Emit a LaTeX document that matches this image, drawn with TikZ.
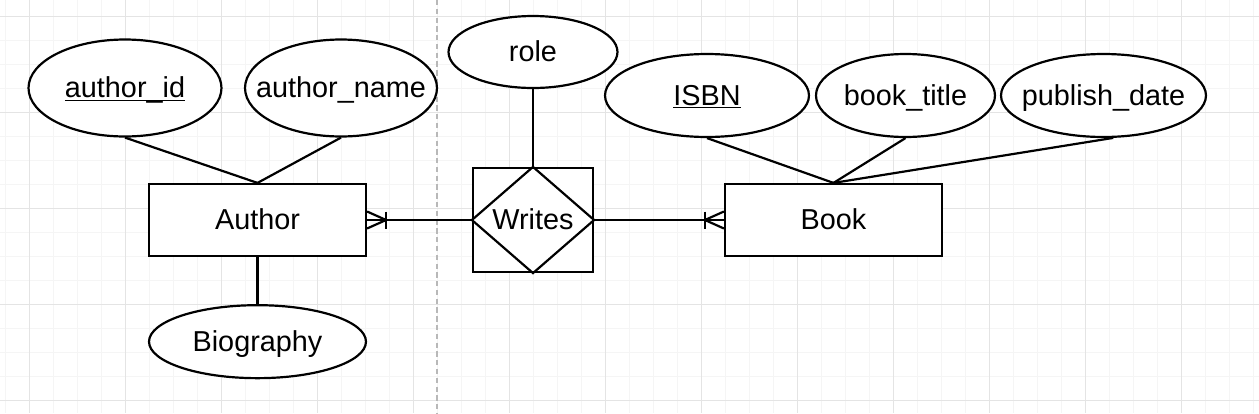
\documentclass[tikz,border=0pt]{standalone}
\usepackage{fontspec}
\setmainfont{Liberation Sans}
\usepackage{xcolor}
\usetikzlibrary{shapes,arrows,positioning}
\definecolor{gridmajor}{HTML}{E4E4E4}
\definecolor{gridminor}{HTML}{F5F5F5}
\definecolor{pagesplit}{HTML}{B8B8B8}
\newcommand{\attrlabel}[1]{\makebox[0pt]{#1}}
\newcommand{\keylabel}[1]{\makebox[0pt]{\underline{\smash{#1}}}}

\begin{document}
\begin{tikzpicture}[x=0.02cm, y=-0.02cm, line width=1.25pt, font=\fontsize{16.4}{19}\selectfont]
        \tikzstyle{entity} = [rectangle, draw, fill=white, minimum width=4.34cm, minimum height=1.44cm, inner sep=0pt, text height=14pt, text depth=3pt]
        \tikzstyle{attribute} = [ellipse, draw, fill=white, inner sep=0pt, text height=14pt, text depth=3pt]
        \tikzstyle{relation} = [rectangle, draw, fill=white, minimum width=2.4cm, minimum height=2.08cm, inner sep=0pt, text height=14pt, text depth=3pt]
        \tikzstyle{line} = [draw]
        \tikzstyle{minorline} = [draw=gridminor, line width=0.45pt]
        \tikzstyle{majorline} = [draw=gridmajor, line width=0.55pt]

    \useasboundingbox (0,0) rectangle (1259,413);
    \fill [white] (0,0) rectangle (1259,413);

    % background grid
    \foreach \gx in {5,29,...,1253} \draw [minorline] (\gx,0) -- (\gx,413);
    \foreach \gy in {16,40,...,400} \draw [minorline] (0,\gy) -- (1259,\gy);
    \foreach \gx in {29,125,...,1181} \draw [majorline] (\gx,0) -- (\gx,413);
    \foreach \gy in {16,112,...,400} \draw [majorline] (0,\gy) -- (1259,\gy);
    \draw [pagesplit, line width=0.6pt, dash pattern=on 3pt off 2pt] (437,0) -- (437,413);

    \node [entity] (author) at (257.5,220) {Author};
    \node [attribute, minimum width=3.86cm, minimum height=1.94cm] (author_id) at (125,88) {\keylabel{author\_id}};
    \node [attribute, minimum width=3.84cm, minimum height=1.94cm] (author_name) at (341,88) {\attrlabel{author\_name}};
    \node [attribute, below=0.94cm of author, minimum width=4.34cm, minimum height=1.46cm] (biography) {\attrlabel{Biography}};

    \node [relation] (writes) at (533,220) {Writes};
    \node [attribute, minimum width=3.38cm, minimum height=1.44cm] (role) at (533,52) {\attrlabel{role}};

    \node [entity] (book) at (833.5,220) {Book};
    \node [attribute, minimum width=4.08cm, minimum height=1.66cm] (isbn) at (707,95.5) {\keylabel{ISBN}};
    \node [attribute, minimum width=3.58cm, minimum height=1.66cm] (book_title) at (905.5,95.5) {\attrlabel{book\_title}};
    \node [attribute, minimum width=4.10cm, minimum height=1.66cm] (publish_date) at (1103.5,95.5) {\attrlabel{publish\_date}};

    \path [line] (writes.north) -- (writes.east) -- (writes.south) -- (writes.west) -- cycle;

    \path [line] (author_id.south) -- (author.north);
    \path [line] (author_name.south) -- (author.north);
    \path [line] (author.south) -- (biography.north);
    \path [line] (role.south) -- (writes.north);
    \path [line] (isbn.south) -- (book.north);
    \path [line] (book_title.south) -- (book.north);
    \path [line] (publish_date.-77) -- (book.north);

    \path [line] (author.east) -- (writes.west);
    \path [line] (writes.east) -- (book.west);

    % crow's feet
    \path [line] ([yshift=0.17cm]author.east) -- ([xshift=0.38cm]author.east) -- ([yshift=-0.17cm]author.east);
    \path [line] ([xshift=0.38cm, yshift=0.17cm]author.east) -- ([xshift=0.38cm, yshift=-0.17cm]author.east);
    \path [line] ([yshift=0.17cm]book.west) -- ([xshift=-0.38cm]book.west) -- ([yshift=-0.17cm]book.west);
    \path [line] ([xshift=-0.38cm, yshift=0.17cm]book.west) -- ([xshift=-0.38cm, yshift=-0.17cm]book.west);

    \end{tikzpicture}
\end{document}
